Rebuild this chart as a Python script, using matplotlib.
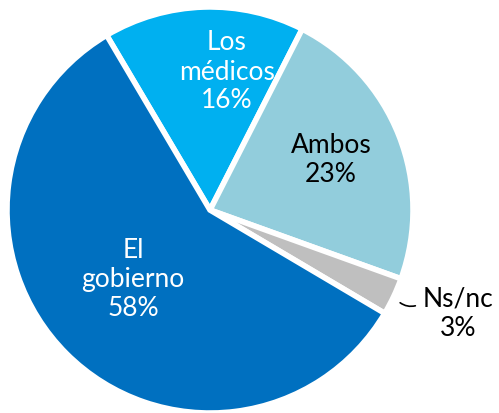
import matplotlib.pyplot as plt

labels = ["Los\nmédicos\n16%", "Ambos\n23%", "Ns/nc\n3%", "El\ngobierno\n58%"]
values = [16, 23, 3, 58]
colors = ["#00B0F0", "#92CDDC", "#BFBFBF", "#0070C0"]

W, H = 499, 414
fig = plt.figure(figsize=(W / 100, H / 100), dpi=100)
ax = fig.add_axes([0, 0, 1, 1])

cx, cy, r = 210, 211, 203
ax.pie(values, colors=colors, startangle=120.6, counterclock=False,
       explode=[0.025] * 4, radius=r, center=(cx, H - cy),
       wedgeprops=dict(edgecolor="white", linewidth=4))

font = dict(family="Lato", fontsize=19, ha="center", va="center", linespacing=1.2)
ax.text(227, H - 72, labels[0], color="white", **font)
ax.text(331, H - 160, labels[1], color="black", **font)
ax.text(133, H - 280, labels[3], color="white", **font)
ax.text(458, H - 314, labels[2], color="black", **font)
ax.annotate("", xy=(398, H - 302), xytext=(418, H - 306),
            arrowprops=dict(arrowstyle="-", color="black", lw=1.2,
                            connectionstyle="arc3,rad=-0.3"))

ax.set_xlim(0, W)
ax.set_ylim(0, H)
ax.set_aspect("auto")
ax.axis("off")
fig.savefig("out.png", dpi=100)
